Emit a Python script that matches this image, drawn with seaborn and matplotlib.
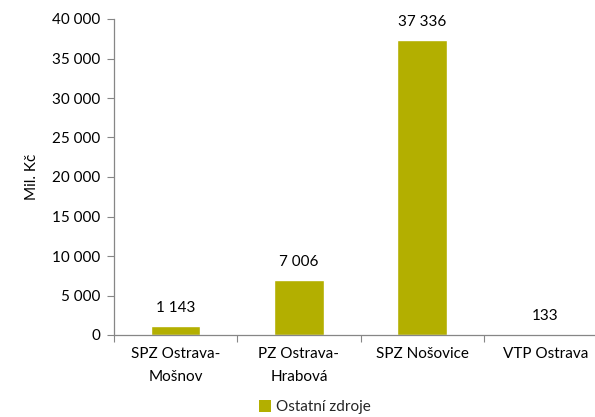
import matplotlib
matplotlib.use("Agg")
import matplotlib.pyplot as plt
import seaborn as sns
import pandas as pd
from matplotlib.ticker import FuncFormatter, FixedLocator
from matplotlib.patches import Patch

categories = ["SPZ Ostrava-\nMošnov", "PZ Ostrava-\nHrabová", "SPZ Nošovice", "VTP Ostrava"]
values = [1143, 7006, 37336, 133]
series_name = "Ostatní zdroje"
y_ticks = [0, 5000, 10000, 15000, 20000, 25000, 30000, 35000, 40000]

sns.set_theme(style="white")
plt.rcParams["font.family"] = ["Lato", "DejaVu Sans"]

bar_color = "#B3AF00"
axis_color = "#868686"
fs = 11

def fmt(v):
    return f"{int(v):,}".replace(",", "\u00a0")

df = pd.DataFrame({"kategorie": categories, "hodnota": values})

fig = plt.figure(figsize=(5.95, 4.17), dpi=100)
ax = fig.add_axes([114 / 595, 82 / 417, 493 / 595, 316 / 417])

sns.barplot(data=df, x="kategorie", y="hodnota", color=bar_color, width=0.4,
            saturation=1, ax=ax)

ax.set_xlim(-0.5, 3.5)
ax.set_ylim(0, 40000)
ax.set_yticks(y_ticks)
ax.yaxis.set_major_formatter(FuncFormatter(lambda v, p: fmt(v)))
ax.tick_params(axis="y", labelsize=fs, colors="#000000", length=5,
               width=0.8, color=axis_color, direction="out", left=True, pad=5)

# category labels at centres, tick marks between categories
ax.set_xticks(range(len(categories)))
ax.set_xticklabels(categories, fontsize=fs, color="#000000", linespacing=1.75)
ax.tick_params(axis="x", which="major", length=0, pad=9)
ax.xaxis.set_minor_locator(FixedLocator([-0.5, 0.5, 1.5, 2.5, 3.5]))
ax.tick_params(axis="x", which="minor", length=5, width=0.8, color=axis_color,
               direction="out", bottom=True)

ax.set_xlabel("")
ax.set_ylabel("Mil. Kč", fontsize=fs, color="#000000", labelpad=9)

for side in ["top", "right"]:
    ax.spines[side].set_visible(False)
for side in ["left", "bottom"]:
    ax.spines[side].set_color(axis_color)
    ax.spines[side].set_linewidth(0.9)

for i, v in enumerate(values):
    ax.annotate(fmt(v), (i, v), xytext=(0, 8), textcoords="offset points",
                ha="center", va="bottom", fontsize=fs, color="#000000")

handle = Patch(facecolor=bar_color, edgecolor="none")
fig.legend([handle], [series_name], loc="center", bbox_to_anchor=(315 / 595, 1 - 407 / 417),
           frameon=False, fontsize=fs, handlelength=0.8, handleheight=0.8,
           handletextpad=0.3, borderpad=0)

fig.savefig("out.png", dpi=100)
